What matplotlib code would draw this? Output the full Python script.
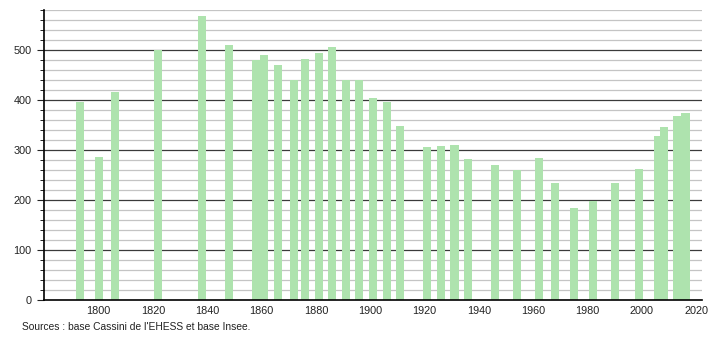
import matplotlib.pyplot as plt
from matplotlib.ticker import MultipleLocator

# bar positions as they sit on the reference's time axis
years = [1793, 1800, 1806, 1822, 1838, 1848, 1858, 1861, 1866, 1872, 1876, 1881,
         1886, 1891, 1896, 1901, 1906, 1911, 1921, 1926, 1931, 1936, 1946, 1954,
         1962, 1968, 1975, 1982, 1990, 1999, 2006, 2008, 2013, 2016]
population = [396, 286, 416, 500, 568, 510, 480, 490, 470, 440, 482, 494,
              506, 440, 440, 404, 396, 348, 306, 308, 310, 282, 270, 260,
              284, 234, 184, 199, 234, 262, 328, 346, 368, 374]
source_text = "Sources : base Cassini de l'EHESS et base Insee."

plt.rcParams['font.family'] = ['Liberation Sans', 'DejaVu Sans']

fig = plt.figure(figsize=(7.1, 3.4), dpi=100)
ax = fig.add_axes([44 / 710, 40 / 340, 658 / 710, 290 / 340])

# minor grid every 20, major every 100
for y in range(20, 600, 20):
    if y % 100 == 0:
        ax.axhline(y, color='#3a3a3a', lw=0.9, zorder=1)
    else:
        ax.axhline(y, color='#c4c4c4', lw=0.9, zorder=1)

ax.bar(years, population, width=3, color='#aee3ae', zorder=2)

ax.set_xlim(1779.9, 2022.1)
ax.set_ylim(0, 580)
ax.set_xticks(range(1800, 2021, 20))
ax.yaxis.set_major_locator(MultipleLocator(100))
ax.yaxis.set_minor_locator(MultipleLocator(20))

for side in ['top', 'right']:
    ax.spines[side].set_visible(False)
ax.spines['left'].set_linewidth(1.2)
ax.spines['bottom'].set_linewidth(1.2)
ax.tick_params(axis='x', length=0, labelsize=7.8, pad=4, colors='#222222')
ax.tick_params(axis='y', which='major', length=5, labelsize=7.8, pad=4, colors='#222222')
ax.tick_params(axis='y', which='minor', length=3)

fig.text(22 / 710, 1 - 327 / 340, source_text, fontsize=7.4, va='center', color='#222222')

plt.savefig('out.png', dpi=100)
